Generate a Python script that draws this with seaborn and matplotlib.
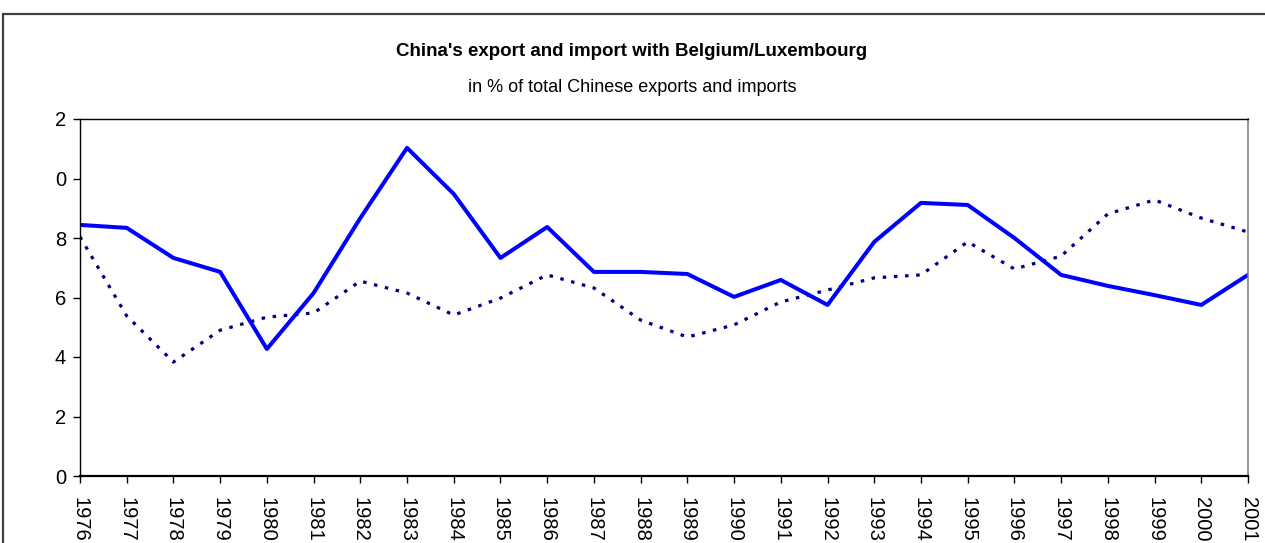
import matplotlib
matplotlib.use("Agg")
import matplotlib.pyplot as plt
import seaborn as sns
import pandas as pd
from matplotlib.patches import Rectangle

years = list(range(1976, 2002))
# solid blue line
exports = [8.44, 8.34, 7.33, 6.86, 4.27, 6.15, 8.67, 11.03, 9.48, 7.33, 8.37, 6.86, 6.86,
           6.79, 6.02, 6.59, 5.75, 7.87, 9.18, 9.11, 8.0, 6.76, 6.39, 6.08, 5.75, 6.76]
# dotted navy line
imports = [8.04, 5.38, 3.83, 4.9, 5.34, 5.48, 6.55, 6.15, 5.41, 5.98, 6.76, 6.32, 5.24,
           4.67, 5.08, 5.85, 6.25, 6.66, 6.76, 7.87, 6.96, 7.39, 8.81, 9.28, 8.67, 8.2]
yticks = [0, 2, 4, 6, 8, 10, 12]
ytick_labels = ["0", "2", "4", "6", "8", "0", "2"]

df = pd.DataFrame({"year": years, "exports": exports, "imports": imports})

sns.set_style("white")
plt.rcParams["font.family"] = ["Liberation Sans", "DejaVu Sans"]
plt.rcParams["text.color"] = "black"
plt.rcParams["xtick.color"] = "black"
plt.rcParams["ytick.color"] = "black"

fig = plt.figure(figsize=(12.65, 5.43), dpi=100)
ax = fig.add_axes([80 / 1265, 67 / 543, (1248 - 80) / 1265, (476 - 119) / 543])

sns.lineplot(data=df, x="year", y="imports", ax=ax, color="#000080",
             linewidth=2.3, linestyle=(0, (1.1, 2.4)))
sns.lineplot(data=df, x="year", y="exports", ax=ax, color="#0000FF", linewidth=2.9)

ax.set_xlim(1976, 2001)
ax.set_ylim(0, 12)
ax.set_xticks(years)
ax.set_xticklabels([str(y) for y in years], rotation=-90, fontsize=14.5)
ax.set_yticks(yticks)
ax.set_yticklabels(ytick_labels, fontsize=14.5)
ax.set_xlabel("")
ax.set_ylabel("")
ax.tick_params(axis="both", direction="out", length=5, width=1, color="black",
               bottom=True, left=True)
ax.tick_params(axis="x", pad=10)
ax.tick_params(axis="y", pad=5)

for side in ["left", "top"]:
    ax.spines[side].set_color("black")
    ax.spines[side].set_linewidth(1)
ax.spines["bottom"].set_color("black")
ax.spines["bottom"].set_linewidth(1.6)
ax.spines["right"].set_color("#808080")
ax.spines["right"].set_linewidth(1.2)

fig.text(632 / 1265, 1 - 51 / 543, "China's export and import with Belgium/Luxembourg",
         ha="center", va="center", fontsize=13.5, fontweight="bold")
fig.text(632 / 1265, 1 - 87 / 543, "in % of total Chinese exports and imports",
         ha="center", va="center", fontsize=13)

# outer chart frame (cropped on right and bottom)
frame = Rectangle((3 / 1265, -0.2), 1.2, 1.2 - 14 / 543, transform=fig.transFigure,
                  fill=False, edgecolor="#404040", linewidth=1.6, clip_on=False)
fig.patches.append(frame)

fig.savefig("out.png", dpi=100)
